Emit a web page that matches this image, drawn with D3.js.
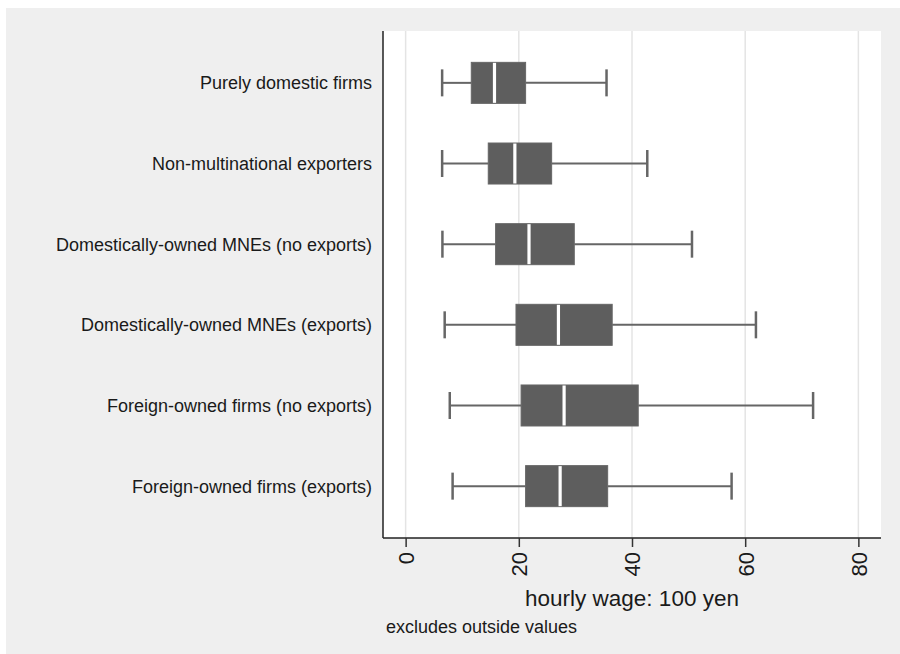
<!DOCTYPE html>
<html lang="en">
  <head>
    <meta charset="UTF-8" />
    <title>hourly wage box plot</title>
    <style>
      body { margin: 0; background: #fff; }
      text { font-family: 'Liberation Sans', Arial, Helvetica, sans-serif; fill: #1a1a1a; }
    </style>
  </head>
  <body>
    <svg id="svg" width="900" height="654"></svg>
    <script src="https://cdn.jsdelivr.net/npm/d3@7/dist/d3.min.js"></script>
    <script>
      // firm groups, top to bottom
      const categories = [
        'Purely domestic firms',
        'Non-multinational exporters',
        'Domestically-owned MNEs (no exports)',
        'Domestically-owned MNEs (exports)',
        'Foreign-owned firms (no exports)',
        'Foreign-owned firms (exports)'
      ]
      // box stats (100 yen)
      const lowerWhisker = [6.45, 6.45, 6.5, 6.9, 7.8, 8.3]
      const q1 = [11.6, 14.6, 15.9, 19.5, 20.4, 21.2]
      const median = [15.7, 19.3, 21.8, 27.0, 28.0, 27.3]
      const q3 = [21.2, 25.8, 29.8, 36.5, 41.1, 35.7]
      const upperWhisker = [35.5, 42.7, 50.6, 61.9, 72.0, 57.6]
      const xTicks = [0, 20, 40, 60, 80]

      const svg = d3.select('#svg')
      const margin = { left: 383, top: 31, right: 19, bottom: 116 }
      const width = +svg.attr('width')
      const height = +svg.attr('height')
      const innerW = width - margin.left - margin.right
      const innerH = height - margin.top - margin.bottom

      // grey outer panel
      svg.append('rect').attr('x', 6).attr('y', 8).attr('width', width - 6).attr('height', height - 8).attr('fill', '#efefef')

      const g = svg.append('g').attr('transform', `translate(${margin.left},${margin.top})`)
      g.append('rect').attr('width', innerW).attr('height', innerH).attr('fill', '#fff')

      const x = d3.scaleLinear().domain([-4, 84]).range([0, innerW])
      const y = d3.scalePoint().domain(categories).range([0, innerH]).padding(0.643)

      // grid lines
      g.selectAll('.grid')
        .data(xTicks)
        .enter()
        .append('line')
        .attr('x1', (d) => x(d))
        .attr('x2', (d) => x(d))
        .attr('y1', 0)
        .attr('y2', innerH)
        .attr('stroke', '#e4e4e4')
        .attr('stroke-width', 1.5)

      const rows = categories.map((c, i) => ({
        name: c,
        lo: lowerWhisker[i],
        q1: q1[i],
        med: median[i],
        q3: q3[i],
        hi: upperWhisker[i]
      }))

      const boxH = 41
      const capH = 27
      const row = g.selectAll('.row').data(rows).enter().append('g').attr('transform', (d) => `translate(0,${y(d.name)})`)

      // whiskers
      row.append('line')
        .attr('x1', (d) => x(d.lo))
        .attr('x2', (d) => x(d.q1))
        .attr('stroke', '#666')
        .attr('stroke-width', 2)
      row.append('line')
        .attr('x1', (d) => x(d.q3))
        .attr('x2', (d) => x(d.hi))
        .attr('stroke', '#666')
        .attr('stroke-width', 2)
      row.selectAll('.cap')
        .data((d) => [d.lo, d.hi])
        .enter()
        .append('line')
        .attr('x1', (v) => x(v))
        .attr('x2', (v) => x(v))
        .attr('y1', -capH / 2)
        .attr('y2', capH / 2)
        .attr('stroke', '#666')
        .attr('stroke-width', 2.5)

      // boxes
      row.append('rect')
        .attr('x', (d) => x(d.q1))
        .attr('y', -boxH / 2)
        .attr('width', (d) => x(d.q3) - x(d.q1))
        .attr('height', boxH)
        .attr('fill', '#5e5e5e')
        .attr('stroke', '#666')
        .attr('stroke-width', 1)
      row.append('line')
        .attr('x1', (d) => x(d.med))
        .attr('x2', (d) => x(d.med))
        .attr('y1', -boxH / 2 + 0.5)
        .attr('y2', boxH / 2 - 0.5)
        .attr('stroke', '#fff')
        .attr('stroke-width', 3.2)

      // category labels
      row.append('text')
        .attr('x', -11)
        .attr('dy', '0.36em')
        .attr('text-anchor', 'end')
        .attr('font-size', 18)
        .text((d) => d.name)

      // axes
      const xAxis = d3.axisBottom(x).tickValues(xTicks).tickSize(9).tickPadding(5)
      const ax = g.append('g').attr('transform', `translate(0,${innerH})`).call(xAxis)
      ax.select('.domain').attr('stroke', '#222').attr('stroke-width', 1.5).attr('d', `M0,0H${innerW}`)
      ax.selectAll('.tick line').attr('stroke', '#333').attr('stroke-width', 1.5)
      ax.selectAll('.tick text')
        .attr('font-size', 22)
        .attr('font-family', null)
        .attr('fill', '#1a1a1a')
        .attr('transform', 'rotate(-90)')
        .attr('text-anchor', 'end')
        .attr('x', -14)
        .attr('y', 0)
        .attr('dy', '0.36em')

      g.append('line')
        .attr('x1', 0)
        .attr('x2', 0)
        .attr('y1', 0)
        .attr('y2', innerH)
        .attr('stroke', '#222')
        .attr('stroke-width', 1.5)

      // titles
      svg.append('text')
        .attr('x', margin.left + innerW / 2)
        .attr('y', 606)
        .attr('text-anchor', 'middle')
        .attr('font-size', 22.5)
        .text('hourly wage: 100 yen')

      svg.append('text')
        .attr('x', 386)
        .attr('y', 633)
        .attr('font-size', 18)
        .text('excludes outside values')
    </script>
  </body>
</html>
